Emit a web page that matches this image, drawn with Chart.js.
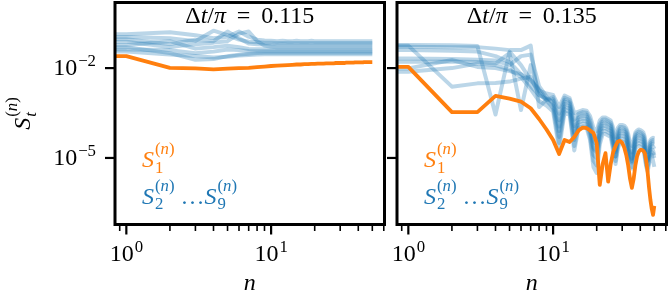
<!DOCTYPE html>
<html>
<head>
<meta charset="utf-8">
<script src="https://cdn.jsdelivr.net/npm/chart.js@4.4.1/dist/chart.umd.min.js"></script>
<style>
  body { margin: 0; background: #fff; }
  #wrap { position: relative; width: 672px; height: 300px; }
  #wrap canvas { position: absolute; left: 0; top: 0; }
</style>
</head>
<body>
<div id="wrap">
  <canvas id="left" width="672" height="300"></canvas>
  <canvas id="right" width="672" height="300"></canvas>
</div>
<script>
// n = 0 is the flat start at the left edge (log axis puts it on the minimum)
const n = [0, 1, 2, 3, 4, 5, 6, 7, 8, 9,
  10, 11, 12, 13, 14, 15, 16, 17, 18, 19,
  20, 21, 22, 23, 24, 25, 26, 27, 28, 29,
  30, 31, 32, 33, 34, 35, 36, 37, 38, 39,
  40, 41, 42, 43, 44, 45, 46, 47, 48, 49,
  50];

// tick positions and labels
const xMajor = [1, 10];
const xMajorSup = ['0', '1'];
const xMinor = [0.9, 2, 3, 4, 5, 6, 7, 8, 9, 20, 30, 40, 50, 60];
const yMajor = [1e-2, 1e-5];
const yMajorSup = ['\u22122', '\u22125'];

const titles = ['0.115', '0.135'];

// all values below are log10 of S_t^(n)
// dt/pi = 0.115
const dt115_S1 = [-1.6, -1.6, -1.99, -2.01, -2.04, -2.02, -2.0, -1.99, -1.97, -1.95,
  -1.93, -1.92, -1.91, -1.9, -1.89, -1.88, -1.88, -1.87, -1.87, -1.86,
  -1.86, -1.85, -1.85, -1.85, -1.84, -1.84, -1.84, -1.84, -1.83, -1.83,
  -1.83, -1.83, -1.83, -1.82, -1.82, -1.82, -1.82, -1.82, -1.81, -1.81,
  -1.81, -1.81, -1.81, -1.81, -1.8, -1.8, -1.8, -1.8, -1.8, -1.8,
  -1.8];
const dt115_S2 = [-0.87, -0.87, -0.8, -0.9, -1.0, -0.95, -0.78, -0.95, -1.05, -1.08,
  -1.09, -1.1, -1.09, -1.1, -1.1, -1.09, -1.1, -1.1, -1.1, -1.09,
  -1.1, -1.1, -1.1, -1.1, -1.1, -1.1, -1.1, -1.1, -1.1, -1.1,
  -1.1, -1.1, -1.1, -1.1, -1.1, -1.1, -1.1, -1.1, -1.1, -1.1,
  -1.1, -1.1, -1.1, -1.1, -1.1, -1.1, -1.1, -1.1, -1.1, -1.1,
  -1.1];
const dt115_S3 = [-0.96, -0.96, -1.0, -1.1, -0.75, -0.9, -1.05, -1.12, -1.14, -1.15,
  -1.15, -1.16, -1.16, -1.15, -1.16, -1.16, -1.16, -1.16, -1.16, -1.16,
  -1.16, -1.16, -1.16, -1.16, -1.16, -1.16, -1.16, -1.16, -1.16, -1.16,
  -1.16, -1.16, -1.16, -1.16, -1.16, -1.16, -1.16, -1.16, -1.16, -1.16,
  -1.16, -1.16, -1.16, -1.16, -1.16, -1.16, -1.16, -1.16, -1.16, -1.16,
  -1.16];
const dt115_S4 = [-1.04, -1.04, -1.2, -1.05, -1.1, -0.78, -1.0, -1.18, -1.2, -1.21,
  -1.22, -1.22, -1.21, -1.22, -1.22, -1.22, -1.22, -1.22, -1.22, -1.22,
  -1.22, -1.22, -1.22, -1.22, -1.22, -1.22, -1.22, -1.22, -1.22, -1.22,
  -1.22, -1.22, -1.22, -1.22, -1.22, -1.22, -1.22, -1.22, -1.22, -1.22,
  -1.22, -1.22, -1.22, -1.22, -1.22, -1.22, -1.22, -1.22, -1.22, -1.22,
  -1.22];
const dt115_S5 = [-1.12, -1.12, -1.3, -1.2, -1.15, -1.1, -0.85, -0.78, -1.1, -1.25,
  -1.29, -1.3, -1.3, -1.3, -1.3, -1.3, -1.3, -1.3, -1.3, -1.3,
  -1.3, -1.3, -1.3, -1.3, -1.3, -1.3, -1.3, -1.3, -1.3, -1.3,
  -1.3, -1.3, -1.3, -1.3, -1.3, -1.3, -1.3, -1.3, -1.3, -1.3,
  -1.3, -1.3, -1.3, -1.3, -1.3, -1.3, -1.3, -1.3, -1.3, -1.3,
  -1.3];
const dt115_S6 = [-1.23, -1.23, -1.1, -1.35, -1.3, -1.25, -1.3, -1.36, -1.37, -1.37,
  -1.37, -1.37, -1.37, -1.37, -1.37, -1.37, -1.37, -1.37, -1.37, -1.37,
  -1.37, -1.37, -1.37, -1.37, -1.37, -1.37, -1.37, -1.37, -1.37, -1.37,
  -1.37, -1.37, -1.37, -1.37, -1.37, -1.37, -1.37, -1.37, -1.37, -1.37,
  -1.37, -1.37, -1.37, -1.37, -1.37, -1.37, -1.37, -1.37, -1.37, -1.37,
  -1.37];
const dt115_S7 = [-1.38, -1.38, -1.4, -1.5, -1.45, -1.38, -1.4, -1.43, -1.44, -1.44,
  -1.44, -1.44, -1.44, -1.44, -1.44, -1.44, -1.44, -1.44, -1.44, -1.44,
  -1.44, -1.44, -1.44, -1.44, -1.44, -1.44, -1.44, -1.44, -1.44, -1.44,
  -1.44, -1.44, -1.44, -1.44, -1.44, -1.44, -1.44, -1.44, -1.44, -1.44,
  -1.44, -1.44, -1.44, -1.44, -1.44, -1.44, -1.44, -1.44, -1.44, -1.44,
  -1.44];
const dt115_S8 = [-1.3, -1.3, -1.5, -1.72, -1.7, -1.6, -1.55, -1.52, -1.5, -1.49,
  -1.49, -1.49, -1.49, -1.49, -1.49, -1.49, -1.49, -1.49, -1.49, -1.49,
  -1.49, -1.49, -1.49, -1.49, -1.49, -1.49, -1.49, -1.49, -1.49, -1.49,
  -1.49, -1.49, -1.49, -1.49, -1.49, -1.49, -1.49, -1.49, -1.49, -1.49,
  -1.49, -1.49, -1.49, -1.49, -1.49, -1.49, -1.49, -1.49, -1.49, -1.49,
  -1.49];
const dt115_S9 = [-1.45, -1.45, -1.55, -1.6, -1.65, -1.62, -1.58, -1.56, -1.55, -1.54,
  -1.54, -1.54, -1.54, -1.54, -1.54, -1.54, -1.54, -1.54, -1.54, -1.54,
  -1.54, -1.54, -1.54, -1.54, -1.54, -1.54, -1.54, -1.54, -1.54, -1.54,
  -1.54, -1.54, -1.54, -1.54, -1.54, -1.54, -1.54, -1.54, -1.54, -1.54,
  -1.54, -1.54, -1.54, -1.54, -1.54, -1.54, -1.54, -1.54, -1.54, -1.54,
  -1.54];

// dt/pi = 0.135
const dt135_S1 = [-1.96, -1.96, -3.47, -3.47, -2.93, -3.02, -3.12, -3.34, -3.7, -4.05,
  -4.4, -4.87, -4.4, -4.47, -4.3, -4.08, -3.99, -4.0, -4.08, -4.17,
  -4.5, -5.9, -5.2, -4.84, -5.79, -5.2, -4.8, -4.6, -4.45, -4.43,
  -4.5, -4.65, -4.9, -5.25, -5.7, -6.0, -5.7, -5.25, -4.95, -4.8,
  -4.73, -4.73, -4.76, -4.84, -5.1, -5.5, -6.0, -6.4, -6.7, -6.9,
  -6.6];
const dt135_S2 = [-1.23, -1.23, -1.24, -1.26, -3.55, -1.45, -1.9, -2.4, -2.75, -2.85,
  -2.9, -3.3, -2.92, -3.0, -3.5, -3.45, -3.4, -3.42, -3.6, -4.0,
  -4.1, -3.75, -3.65, -3.65, -3.7, -3.75, -4.0, -4.3, -4.0, -3.9,
  -3.9, -3.92, -4.0, -4.2, -4.5, -4.6, -4.4, -4.15, -4.08, -4.05,
  -4.07, -4.1, -4.15, -4.3, -4.6, -4.8, -4.6, -4.4, -4.35, -4.33,
  -4.35];
const dt135_S3 = [-1.29, -1.29, -1.3, -1.3, -1.35, -1.4, -1.4, -1.25, -3.3, -3.05,
  -2.97, -3.52, -2.99, -3.07, -3.72, -3.52, -3.47, -3.49, -3.73, -4.22,
  -4.32, -3.87, -3.72, -3.72, -3.77, -3.82, -4.13, -4.52, -4.12, -3.97,
  -3.97, -3.99, -4.07, -4.33, -4.72, -4.82, -4.53, -4.22, -4.15, -4.12,
  -4.14, -4.17, -4.22, -4.42, -4.82, -5.02, -4.73, -4.47, -4.42, -4.4,
  -4.42];
const dt135_S4 = [-1.4, -1.4, -1.42, -1.45, -1.6, -1.8, -2.2, -2.6, -2.9, -3.0,
  -3.04, -3.74, -3.06, -3.14, -3.94, -3.59, -3.54, -3.56, -3.86, -4.44,
  -4.54, -3.98, -3.79, -3.79, -3.84, -3.89, -4.26, -4.74, -4.23, -4.04,
  -4.04, -4.06, -4.14, -4.46, -4.94, -5.04, -4.66, -4.29, -4.22, -4.19,
  -4.21, -4.24, -4.29, -4.53, -4.9, -5.05, -4.86, -4.54, -4.49, -4.47,
  -4.49];
const dt135_S5 = [-1.25, -1.25, -2.62, -2.51, -2.5, -2.45, -2.35, -2.3, -2.9, -3.05,
  -3.1, -3.95, -3.12, -3.2, -4.15, -3.65, -3.6, -3.62, -3.98, -4.65,
  -4.75, -4.09, -3.85, -3.85, -3.9, -3.95, -4.38, -4.95, -4.34, -4.1,
  -4.1, -4.12, -4.2, -4.58, -5.0, -5.1, -4.78, -4.35, -4.28, -4.25,
  -4.27, -4.3, -4.35, -4.64, -4.95, -5.1, -4.85, -4.6, -4.55, -4.53,
  -4.55];
const dt135_S6 = [-1.68, -1.68, -1.7, -1.72, -1.75, -1.9, -1.6, -1.55, -2.6, -2.95,
  -3.18, -4.1, -3.2, -3.28, -4.2, -3.73, -3.68, -3.7, -4.05, -4.7,
  -4.8, -4.15, -3.93, -3.93, -3.98, -4.03, -4.45, -4.8, -4.4, -4.18,
  -4.18, -4.2, -4.28, -4.65, -4.9, -5.0, -4.8, -4.43, -4.36, -4.33,
  -4.35, -4.38, -4.43, -4.72, -5.0, -5.1, -4.95, -4.68, -4.63, -4.61,
  -4.7];
const dt135_S7 = [-1.79, -1.79, -1.78, -1.8, -1.85, -1.5, -3.4, -1.9, -2.8, -3.1,
  -3.26, -4.3, -3.28, -3.36, -4.4, -3.81, -3.76, -3.78, -4.15, -4.9,
  -5.0, -4.25, -4.01, -4.01, -4.06, -4.11, -4.55, -4.95, -4.5, -4.26,
  -4.26, -4.28, -4.36, -4.75, -5.05, -5.15, -4.9, -4.51, -4.44, -4.41,
  -4.43, -4.46, -4.51, -4.8, -5.15, -5.25, -5.05, -4.76, -4.71, -4.75,
  -4.9];
const dt135_S8 = [-2.01, -2.01, -1.73, -1.96, -2.0, -2.1, -2.2, -2.4, -2.7, -3.05,
  -3.35, -4.5, -3.37, -3.45, -4.6, -3.9, -3.85, -3.87, -4.3, -5.1,
  -5.25, -4.4, -4.1, -4.1, -4.15, -4.2, -4.65, -5.1, -4.6, -4.35,
  -4.35, -4.37, -4.45, -4.85, -5.2, -5.3, -5.0, -4.6, -4.53, -4.5,
  -4.52, -4.55, -4.6, -4.9, -5.25, -5.35, -5.1, -4.85, -4.8, -4.85,
  -5.0];
const dt135_S9 = [-2.12, -2.12, -2.0, -1.85, -1.9, -2.05, -2.3, -2.7, -3.1, -3.25,
  -3.45, -4.7, -3.47, -3.55, -4.75, -4.0, -3.95, -3.97, -4.4, -5.3,
  -5.5, -4.55, -4.2, -4.2, -4.25, -4.3, -4.75, -5.2, -4.7, -4.45,
  -4.45, -4.47, -4.55, -4.95, -5.3, -5.35, -5.1, -4.7, -4.63, -4.6,
  -4.62, -4.65, -4.7, -5.0, -5.3, -5.45, -5.2, -4.95, -4.9, -5.1,
  -5.3];

const ORANGE = '#ff7f0e';
const BLUE = '#1f77b4';
const BLUE_LINE = 'rgba(31, 119, 180, 0.3)';
const FAMILY = '"Liberation Serif", "DejaVu Serif", serif';
const FS = 24;

const X_MIN = 0.835, X_MAX = 60.7;
const Y_MIN = Math.pow(10, -7.2), Y_MAX = Math.pow(10, 0.19);

// little mathtext helper: groups of {b: base runs, sup, sub}, run = [text, italic]
function setFont(ctx, size, italic) {
    ctx.font = (italic ? 'italic ' : '') + size + 'px ' + FAMILY;
}
function runs(ctx, list, x, y, size, draw) {
    let w = 0;
    list.forEach(([t, it]) => {
        setFont(ctx, size, it);
        if (draw) ctx.fillText(t, x + w, y);
        w += ctx.measureText(t).width;
    });
    return w;
}
function mathText(ctx, groups, x, y, size, align) {
    const s = size * 0.7;
    const pass = (ox, doDraw) => {
        let px = ox;
        groups.forEach(g => {
            px += runs(ctx, g.b || [], px, y, size, doDraw);
            const rise = g.sub ? 0.53 * size : 0.36 * size;
            let sw = 0;
            if (g.sup) sw = runs(ctx, g.sup, px + 1, y - rise, s, doDraw) + 1;
            if (g.sub) sw = Math.max(sw, runs(ctx, g.sub, px + 1, y + 0.23 * size, s, doDraw) + 1);
            px += sw;
        });
        return px - ox;
    };
    const total = pass(0, false);
    let cx = x;
    if (align === 'center') cx = x - total / 2;
    else if (align === 'right') cx = x - total;
    ctx.textAlign = 'left';
    ctx.textBaseline = 'alphabetic';
    pass(cx, true);
}

const supN = [['(', 0], ['n', 1], [')', 0]];
const labelS1 = [{b: [['S', 1]], sup: supN, sub: [['1', 0]]}];
const labelRest = [{b: [['S', 1]], sup: supN, sub: [['2', 0]]},
    {b: [[' \u2026', 0]]},
    {b: [['S', 1]], sup: supN, sub: [['9', 0]]}];
const labelY = [{b: [['S', 1]], sup: supN, sub: [['t', 1]]}];
const labelX = [{b: [['n', 1]]}];

function toPoints(vals) {
    return n.map((x, i) => ({x: x, y: Math.pow(10, vals[i])}));
}

function framePlugin(title, showYLabels) {
    return {
        id: 'frame',
        afterDatasetsDraw(chart) {
            const {ctx, chartArea: a} = chart;
            const xs = chart.scales.x, ys = chart.scales.y;
            ctx.save();
            ctx.strokeStyle = '#000';
            ctx.fillStyle = '#000';
            ctx.lineWidth = 3;
            ctx.strokeRect(a.left, a.top, a.right - a.left, a.bottom - a.top);

            // x ticks
            ctx.lineWidth = 2.2;
            xMajor.forEach((v, i) => {
                const px = xs.getPixelForValue(v);
                ctx.beginPath(); ctx.moveTo(px, a.bottom); ctx.lineTo(px, a.bottom + 10); ctx.stroke();
                mathText(ctx, [{b: [['10', 0]], sup: [[xMajorSup[i], 0]]}], px, a.bottom + 36, FS, 'center');
            });
            ctx.lineWidth = 1.6;
            xMinor.forEach(v => {
                const px = xs.getPixelForValue(v);
                ctx.beginPath(); ctx.moveTo(px, a.bottom); ctx.lineTo(px, a.bottom + 6.5); ctx.stroke();
            });

            // y ticks
            ctx.lineWidth = 2.2;
            yMajor.forEach((v, i) => {
                const py = ys.getPixelForValue(v);
                ctx.beginPath(); ctx.moveTo(a.left - 10, py); ctx.lineTo(a.left, py); ctx.stroke();
                if (showYLabels) {
                    mathText(ctx, [{b: [['10', 0]], sup: [[yMajorSup[i], 0]]}], a.left - 19, py + 7, FS, 'right');
                }
            });

            const cx = (a.left + a.right) / 2;
            // title inside the box
            mathText(ctx, [{b: [['\u0394', 0], ['t', 1], ['/', 0], ['\u03c0', 1], [' \u2009=\u2009 ' + title, 0]]}],
                cx, a.top + 20.5, FS, 'center');

            // series labels
            const lx = a.left + 0.1 * (a.right - a.left);
            ctx.fillStyle = ORANGE;
            mathText(ctx, labelS1, lx, a.top + 164.5, FS, 'left');
            ctx.fillStyle = BLUE;
            mathText(ctx, labelRest, lx, a.top + 201, FS, 'left');

            // axis labels
            ctx.fillStyle = '#000';
            mathText(ctx, labelX, cx, 290, FS, 'center');
            if (showYLabels) {
                ctx.save();
                ctx.translate(30, (a.top + a.bottom) / 2);
                ctx.rotate(-Math.PI / 2);
                mathText(ctx, labelY, 0, 0, FS, 'center');
                ctx.restore();
            }
            ctx.restore();
        }
    };
}

function makePanel(id, title, s1, blues, area, showYLabels) {
    const datasets = [{data: toPoints(s1), borderColor: ORANGE, borderWidth: 3.8}]
        .concat(blues.map(b => ({data: toPoints(b), borderColor: BLUE_LINE, borderWidth: 4})));
    datasets.forEach(d => { d.clip = 0; d.pointRadius = 0; d.fill = false; });

    new Chart(document.getElementById(id), {
        type: 'line',
        data: {datasets: datasets},
        options: {
            responsive: false,
            animation: false,
            devicePixelRatio: 1,
            events: [],
            layout: {
                padding: {left: area.left, top: area.top, right: 672 - area.right, bottom: 300 - area.bottom}
            },
            elements: {
                line: {tension: 0, borderJoinStyle: 'round', borderCapStyle: 'butt'},
                point: {radius: 0}
            },
            plugins: {legend: {display: false}, tooltip: {enabled: false}},
            scales: {
                x: {type: 'logarithmic', display: false, min: X_MIN, max: X_MAX},
                y: {type: 'logarithmic', display: false, min: Y_MIN, max: Y_MAX}
            }
        },
        plugins: [framePlugin(title, showYLabels)]
    });
}

makePanel('left', titles[0], dt115_S1,
    [dt115_S2, dt115_S3, dt115_S4, dt115_S5, dt115_S6, dt115_S7, dt115_S8, dt115_S9],
    {left: 115, top: 2.5, right: 384.5, bottom: 224.5}, true);
makePanel('right', titles[1], dt135_S1,
    [dt135_S2, dt135_S3, dt135_S4, dt135_S5, dt135_S6, dt135_S7, dt135_S8, dt135_S9],
    {left: 397, top: 2.5, right: 666.5, bottom: 224.5}, false);
</script>
</body>
</html>
